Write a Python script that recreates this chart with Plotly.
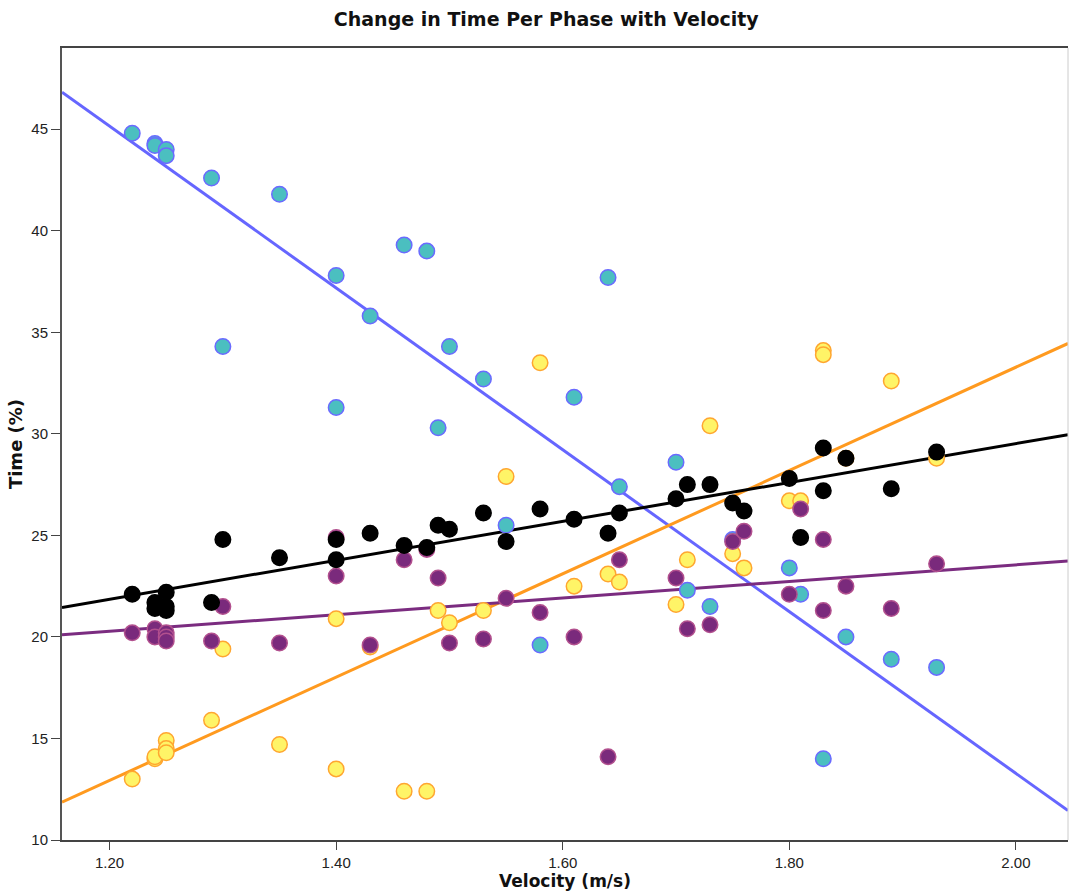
import numpy as np
import plotly.graph_objects as go

# ---- data ----
vel_teal = [1.22, 1.24, 1.24, 1.25, 1.25, 1.29, 1.30, 1.35, 1.40, 1.40, 1.43, 1.46, 1.48, 1.49, 1.50,
            1.53, 1.55, 1.58, 1.61, 1.64, 1.65, 1.70, 1.71, 1.73, 1.75, 1.80, 1.81, 1.83, 1.85, 1.89, 1.93]
time_teal = [44.8, 44.3, 44.2, 44.0, 43.7, 42.6, 34.3, 41.8, 37.8, 31.3, 35.8, 39.3, 39.0, 30.3, 34.3,
             32.7, 25.5, 19.6, 31.8, 37.7, 27.4, 28.6, 22.3, 21.5, 24.8, 23.4, 22.1, 14.0, 20.0, 18.9, 18.5]

vel_all = [1.22, 1.24, 1.24, 1.25, 1.25, 1.25, 1.29, 1.30, 1.35, 1.40, 1.40, 1.43, 1.46, 1.48, 1.49, 1.50,
           1.53, 1.55, 1.58, 1.61, 1.64, 1.65, 1.70, 1.71, 1.73, 1.75, 1.76, 1.80, 1.81, 1.83, 1.83, 1.85,
           1.89, 1.93]
time_black = [22.1, 21.7, 21.4, 22.2, 21.5, 21.3, 21.7, 24.8, 23.9, 24.8, 23.8, 25.1, 24.5, 24.4, 25.5, 25.3,
              26.1, 24.7, 26.3, 25.8, 25.1, 26.1, 26.8, 27.5, 27.5, 26.6, 26.2, 27.8, 24.9, 29.3, 27.2, 28.8,
              27.3, 29.1]
time_purple = [20.2, 20.4, 20.0, 20.2, 20.0, 19.8, 19.8, 21.5, 19.7, 24.9, 23.0, 19.6, 23.8, 24.3, 22.9, 19.7,
               19.9, 21.9, 21.2, 20.0, 14.1, 23.8, 22.9, 20.4, 20.6, 24.7, 25.2, 22.1, 26.3, 24.8, 21.3, 22.5,
               21.4, 23.6]
time_yellow = [13.0, 14.0, 14.1, 14.9, 14.5, 14.3, 15.9, 19.4, 14.7, 13.5, 20.9, 19.5, 12.4, 12.4, 21.3, 20.7,
               21.3, 27.9, 33.5, 22.5, 23.1, 22.7, 21.6, 23.8, 30.4, 24.1, 23.4, 26.7, 26.7, 34.1, 33.9, 28.8,
               32.6, 28.8]

# fit lines (total fit): time = intercept + slope * velocity
fit_intercept = {"teal": 92.96, "yellow": -17.58, "purple": 15.37, "black": 10.36}
fit_slope = {"teal": -39.84, "yellow": 25.43, "purple": 4.09, "black": 9.58}

x_ticks = [1.20, 1.40, 1.60, 1.80, 2.00]
y_ticks = [10, 15, 20, 25, 30, 35, 40, 45]
x_range = [1.158, 2.046]
y_range = [10, 49.0]

series = [
    dict(key="teal", x=vel_teal, y=time_teal, fill="#4BBFC0", edge="#6A6AFF", line="#6666FF"),
    dict(key="yellow", x=vel_all, y=time_yellow, fill="#FFF467", edge="#FFA630", line="#FF9A1F"),
    dict(key="purple", x=vel_all, y=time_purple, fill="#7A2A7C", edge="#B2508E", line="#7B2C80"),
    dict(key="black", x=vel_all, y=time_black, fill="#000000", edge="#000000", line="#000000"),
]

fig = go.Figure()
xs_line = np.array(x_range)
for s in series:
    a, b = fit_intercept[s["key"]], fit_slope[s["key"]]
    fig.add_trace(go.Scatter(x=xs_line, y=a + b * xs_line, mode="lines",
                             line=dict(color=s["line"], width=3), hoverinfo="skip",
                             showlegend=False))
for s in series:
    fig.add_trace(go.Scatter(x=s["x"], y=s["y"], mode="markers",
                             marker=dict(size=15.5, color=s["fill"],
                                         line=dict(color=s["edge"], width=1.5)),
                             showlegend=False))

tick_font = dict(family="Liberation Sans, Arial", size=15, color="#222")
fig.update_layout(
    width=1069, height=894,
    margin=dict(l=62, r=1, t=48, b=54),
    paper_bgcolor="white", plot_bgcolor="white",
    title=dict(text="<b>Change in Time Per Phase with Velocity</b>",
               font=dict(family="DejaVu Sans", size=19, color="#111"),
               x=0.511, xanchor="center", y=0.978, yanchor="middle"),
    xaxis=dict(range=x_range, tickvals=x_ticks, tickformat=".2f", showgrid=False, zeroline=False,
               ticks="outside", ticklen=8, tickcolor="#444", showline=True, linecolor="#444",
               linewidth=2, mirror=True, automargin=False,
               tickfont=tick_font,
               title=dict(text="<b>Velocity (m/s)</b>", standoff=4,
                          font=dict(family="DejaVu Sans", size=17, color="#111"))),
    yaxis=dict(range=y_range, tickvals=y_ticks, showgrid=False, zeroline=False,
               ticks="outside", ticklen=9, tickcolor="#444", showline=True, linecolor="#555",
               linewidth=2, mirror=False, automargin=False,
               tickfont=tick_font,
               title=dict(text="<b>Time (%)</b>", standoff=4,
                          font=dict(family="DejaVu Sans", size=18, color="#111"))),
    shapes=[dict(type="line", xref="paper", yref="paper", x0=1, x1=1, y0=0, y1=1,
                 line=dict(color="#CCCCCC", width=1))],
)
fig.write_html("out.html", config={"displayModeBar": False},
               post_script="document.body.style.margin='0';")
